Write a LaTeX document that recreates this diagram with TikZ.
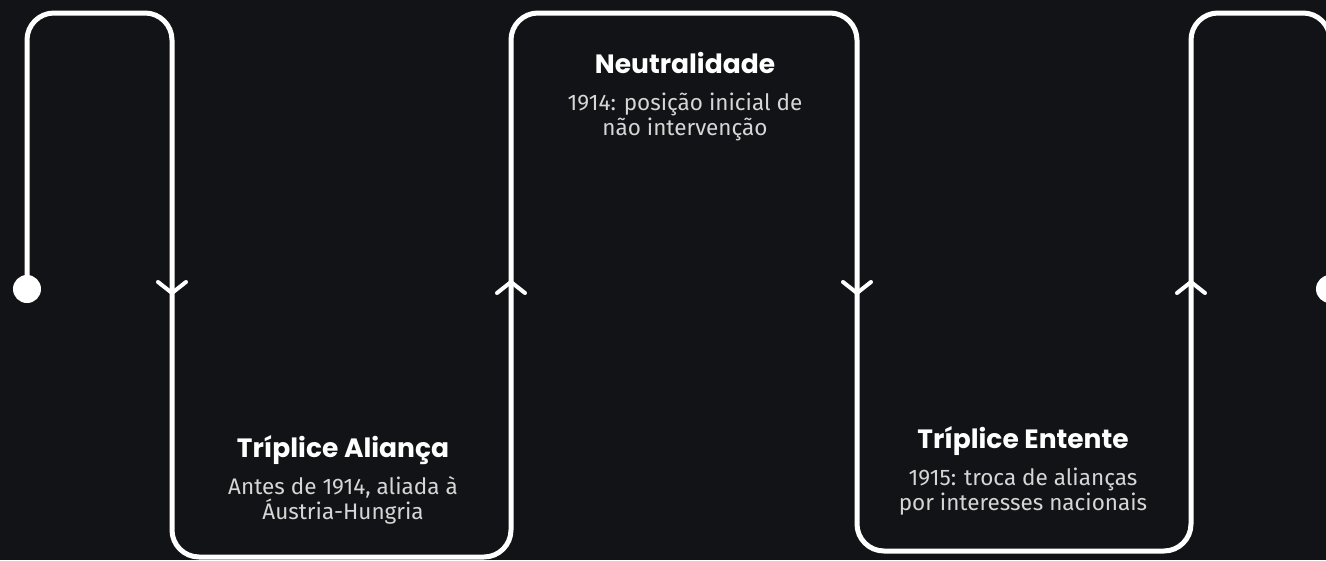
\documentclass[tikz,border=0pt]{standalone}
\usepackage{fontspec}
\setmainfont{Fira Sans}
\newfontfamily\titlefont{Poppins}
\usetikzlibrary{positioning}
\definecolor{bg}{HTML}{121316}
\definecolor{subgrey}{HTML}{D6D6D6}
\tikzset{
    track/.style = {draw = white, line width = 5pt, rounded corners = 27pt},
    chevron/.style = {draw = white, line width = 4pt, line cap = round, line join = round},
    title/.style = {anchor = base, text = white, font = \titlefont\bfseries\fontsize{26.5}{30}\selectfont},
    sub/.style = {anchor = base, text = subgrey, align = center, inner sep = 0pt, font = \fontsize{22.5}{25}\selectfont}
}
\begin{document}
\begin{tikzpicture}[x = 1pt, y = -1pt]
        \fill[bg] (0,0) rectangle (1326,560);
        \useasboundingbox (0,0) rectangle (1326,560);
        % corners of the track
        \coordinate (start) at (27,289);
        \coordinate (end) at (1330,289);
        \draw[track] (start) -- (27,13) -- (172,13) -- (172,557) -- (511,557) -- (511,13)
            -- (857,13) -- (857,551) -- (1191,551) -- (1191,13) -- (1330,13) -- (end);
        \fill[white] (start) circle[radius = 14];
        \fill[white] (end) circle[radius = 14];
        % direction marks
        \begin{scope}[style = chevron]
            \draw (158,282) -- (172,293) -- (186,282);
            \draw (497,293) -- (511,282) -- (525,293);
            \draw (843,282) -- (857,293) -- (871,282);
            \draw (1177,293) -- (1191,282) -- (1205,293);
        \end{scope}
        % stages (sub text sits on its last line)
        \node[title] (alianca) at (343,457) {Tríplice Aliança};
        \node[sub] (alianca-txt) at (343,519) {Antes de 1914, aliada à\\Áustria-Hungria};
        \node[title] (neutro) at (685,73) {Neutralidade};
        \node[sub] (neutro-txt) at (685,135) {1914: posição inicial de\\não intervenção};
        \node[title] (entente) at (1023,448) {Tríplice Entente};
        \node[sub] (entente-txt) at (1023,510) {1915: troca de alianças\\por interesses nacionais};
    \end{tikzpicture}
\end{document}
